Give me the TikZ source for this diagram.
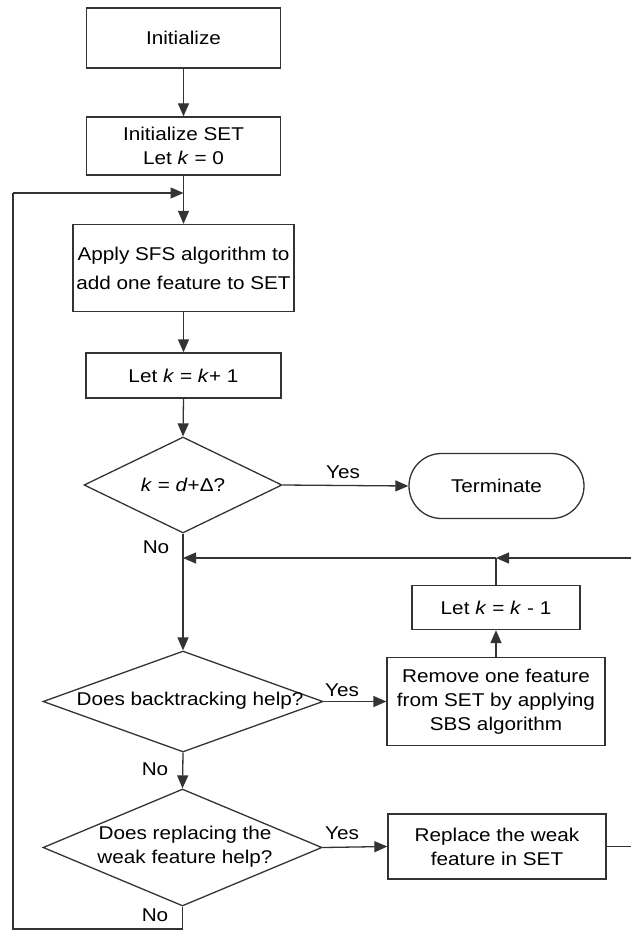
\documentclass[tikz,border=0pt]{standalone}
\usepackage{fontspec}
\setmainfont{Liberation Sans}[FakeStretch=1.12]
\usetikzlibrary{arrows.meta,shapes.geometric,shapes.misc}
\tikzset{
  box/.style={draw=black!80, line width=1.3pt, rectangle, inner sep=0pt, align=center},
  dia/.style={draw=black!80, line width=1.3pt, diamond, inner sep=0pt},
  txt/.style={align=center, inner sep=0pt},
  conn/.style={draw=black!80, line width=1.3pt},
  arr/.style={draw=black!80, line width=1.3pt, -{Triangle[length=13pt,width=11pt]}},
  lbl/.style={inner sep=0pt}
}
\begin{document}
\begin{tikzpicture}[x=1pt,y=-1pt,
  every node/.style={font=\fontsize{18.5}{24}\selectfont, text=black}]
\useasboundingbox (0,0) rectangle (631,931);

% boxes
\node[box, minimum width=194pt, minimum height=60pt] (init) at (183.5,38) {Initialize};
\node[box, minimum width=194pt, minimum height=58pt] (initset) at (183.5,146) {Initialize SET\\Let \textit{k} = 0};
\node[box, minimum width=221pt, minimum height=87pt] (apply) at (183.5,268) {Apply SFS algorithm to\\[5pt]add one feature to SET};
\node[box, minimum width=195pt, minimum height=45pt] (letk1) at (183.5,375.5) {Let \textit{k} = \textit{k}+ 1};

% decision 1
\node[dia, minimum width=198pt, minimum height=96pt] (d1) at (183,485) {};
\node[txt] (d1t) at (183,485) {\textit{k} = \textit{d}+Δ?};
\node[box, rounded rectangle, minimum width=175pt, minimum height=65pt] (term) at (496.5,486) {Terminate};

% decision 2
\node[dia, minimum width=280pt, minimum height=101pt] (d2) at (183,701.5) {};
\node[txt] (d2t) at (190,701) {Does backtracking help?};
\node[box, minimum width=218pt, minimum height=88pt] (remove) at (496,701.5) {Remove one feature\\from SET by applying\\SBS algorithm};
\node[box, minimum width=168pt, minimum height=44pt] (letk2) at (496,607.5) {Let \textit{k} = \textit{k} - 1};

% decision 3
\node[dia, minimum width=279pt, minimum height=117pt] (d3) at (182.5,847.5) {};
\node[txt] (d3t) at (185,847) {Does replacing the\\weak feature help?};
\node[box, minimum width=218pt, minimum height=65pt] (replace) at (497,846.5) {Replace the weak\\feature in SET};

% helper coordinates
\coordinate (j2) at (183.5,193);
\coordinate (rin) at (631,558);
\coordinate (j1) at (496,558);
\coordinate (j0) at (183,558);
\coordinate (rout) at (631,846.5);
\coordinate (b1) at (182.5,929);
\coordinate (b2) at (13,929);
\coordinate (b3) at (13,193);

% connectors
\draw[arr] (init.south) -- (initset.north);
\draw[arr] (initset.south) -- (apply.north);
\draw[arr] (apply.south) -- (letk1.north);
\draw[arr] (letk1.south) -- (d1.north);
\draw[arr] (d1.east) -- (term.west);
\draw[arr] (d1.south) -- (d2.north);
\draw[arr] (rin) -- (j1);
\draw[conn] (letk2.north) -- (j1);
\draw[arr] (j1) -- (j0);
\draw[arr] (d2.east) -- (remove.west);
\draw[arr] (remove.north) -- (letk2.south);
\draw[arr] (d2.south) -- (d3.north);
\draw[arr] (d3.east) -- (replace.west);
\draw[conn] (replace.east) -- (rout);
\draw[conn] (d3.south) -- (b1) -- (b2) -- (b3);
\draw[arr] (b3) -- (j2);

% labels
\node[lbl] (y1) at (343,472) {Yes};
\node[lbl] (n1) at (156,547) {No};
\node[lbl] (y2) at (342,690) {Yes};
\node[lbl] (n2) at (155,769) {No};
\node[lbl] (y3) at (342,833) {Yes};
\node[lbl] (n3) at (155,915) {No};
\end{tikzpicture}
\end{document}
